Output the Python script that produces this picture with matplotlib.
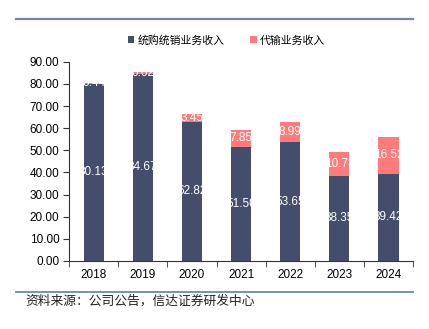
import numpy as np
import matplotlib.pyplot as plt
from matplotlib.lines import Line2D

plt.rcParams['font.family'] = ['Liberation Sans', 'Noto Sans CJK SC', 'DejaVu Sans']

years = ['2018', '2019', '2020', '2021', '2022', '2023', '2024']
tonggou = [80.13, 84.67, 62.82, 51.50, 53.65, 38.35, 39.42]
daishu = [0.44, 0.62, 3.45, 7.85, 8.99, 10.78, 16.52]
labels = ['统购统销业务收入', '代输业务收入']
source = '资料来源：公司公告，信达证券研发中心'

navy = '#454d6d'
pink = '#ff7b7b'
line_c = '#6e87a8'

fig = plt.figure(figsize=(4.29, 3.29), dpi=100)
ax = fig.add_axes([0.161, 0.207, 0.802, 0.605])

x = np.arange(len(years))
w = 0.41
b1 = ax.bar(x, tonggou, w, color=navy, label=labels[0])
b2 = ax.bar(x, daishu, w, bottom=tonggou, color=pink, label=labels[1])

# 数据标签
for i in range(len(years)):
    ax.text(x[i], tonggou[i] / 2, f'{tonggou[i]:.2f}', color='white',
            ha='center', va='center', fontsize=8.5)
    ax.text(x[i], tonggou[i] + daishu[i] / 2, f'{daishu[i]:.2f}', color='white',
            ha='center', va='center', fontsize=8.5)

ax.set_xlim(-0.5, len(years) - 0.5)
ax.set_ylim(0, 90)
ax.set_yticks(np.arange(0, 91, 10))
ax.set_yticklabels([f'{v:.2f}' for v in np.arange(0, 91, 10)], fontsize=8.5)
ax.set_xticks(x)
ax.set_xticklabels(years, fontsize=8.5)
ax.set_xticks(np.arange(-0.5, len(years), 1), minor=True)
ax.tick_params(axis='x', which='major', length=0, pad=6)
ax.tick_params(axis='x', which='minor', length=4, direction='out', color='#333333')
ax.tick_params(axis='y', length=4, direction='out', color='#333333', pad=3)

for s in ['top', 'right']:
    ax.spines[s].set_visible(False)
ax.spines['left'].set_color('#333333')
ax.spines['bottom'].set_color('#333333')

fig.legend(handles=[b1, b2], labels=labels, loc='center', ncol=2,
           bbox_to_anchor=(0.528, 0.878), frameon=False,
           handlelength=0.6, handleheight=0.6, handletextpad=0.3, columnspacing=2.4,
           prop={'family': ['Noto Sans CJK SC'], 'size': 7.8})

# 上下分隔线
fig.add_artist(Line2D([16 / 429, 413 / 429], [1 - 19 / 329, 1 - 19 / 329],
                      color=line_c, lw=1.6, transform=fig.transFigure))
fig.add_artist(Line2D([16 / 429, 413 / 429], [1 - 292 / 329, 1 - 292 / 329],
                      color=line_c, lw=1.3, transform=fig.transFigure))

fig.text(25 / 429, 1 - 301 / 329, source, ha='left', va='center', fontsize=9.2,
         style='italic', color='#222222', family=['Noto Sans CJK SC'])

fig.savefig('out.png', dpi=100)
